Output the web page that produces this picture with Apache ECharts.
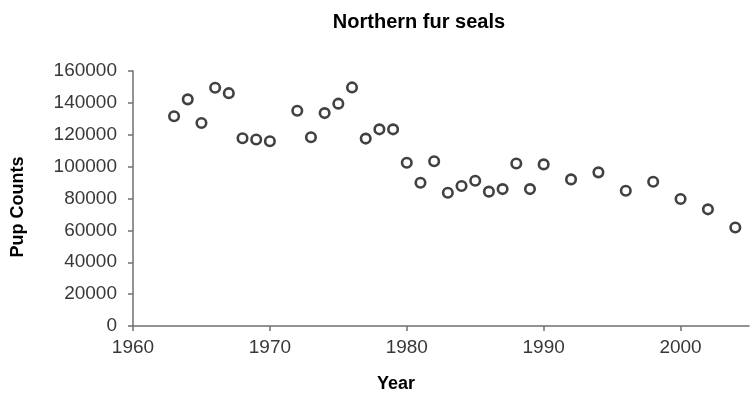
<!DOCTYPE html>
<html lang="en">
<head>
    <meta charset="UTF-8">
    <title>Northern fur seals</title>
    <script src="https://cdn.jsdelivr.net/npm/echarts@6/dist/echarts.min.js"></script>
    <style>
        html, body { margin: 0; padding: 0; background: #fff; }
        #chart { width: 752px; height: 400px; }
    </style>
</head>
<body>
    <div id="chart"></div>
    <script>
        // survey years and pup counts
        var years = [1963, 1964, 1965, 1966, 1967, 1968, 1969, 1970, 1972, 1973,
                     1974, 1975, 1976, 1977, 1978, 1979, 1980, 1981, 1982, 1983,
                     1984, 1985, 1986, 1987, 1988, 1989, 1990, 1992, 1994, 1996,
                     1998, 2000, 2002, 2004];
        var pupCounts = [131600, 142200, 127400, 149500, 146100, 117800, 117000, 115900, 135100, 118400,
                         133600, 139500, 149700, 117600, 123400, 123400, 102400, 89900, 103400, 83600,
                         87800, 91100, 84300, 85900, 102000, 85900, 101400, 92000, 96400, 84900,
                         90500, 79700, 73200, 61800];

        var chart = echarts.init(document.getElementById('chart'));
        var points = years.map(function (y, i) { return [y, pupCounts[i]]; });
        var plain = function (v) { return String(v); };

        chart.setOption({
            animation: false,
            title: {
                text: 'Northern fur seals',
                left: 414,
                top: 7,
                textAlign: 'center',
                textStyle: { fontFamily: 'Liberation Sans', fontSize: 20, fontWeight: 'bold', color: '#000' }
            },
            grid: { left: 133, right: 3, top: 71, bottom: 74, containLabel: false, outerBoundsMode: 'none' },
            xAxis: {
                type: 'value',
                min: 1960,
                max: 2005,
                interval: 10,
                name: 'Year',
                nameLocation: 'middle',
                nameGap: 49,
                nameTextStyle: {
                    fontFamily: 'Liberation Sans', fontSize: 18, fontWeight: 'bold', color: '#000',
                    padding: [0, 90, 0, 0]
                },
                axisLine: { lineStyle: { color: '#707070', width: 1.5 } },
                axisTick: { show: true, length: 5, inside: false, lineStyle: { color: '#707070', width: 1.5 } },
                axisLabel: {
                    fontFamily: 'Liberation Sans', fontSize: 19, color: '#383838', margin: 12,
                    showMaxLabel: false, formatter: plain
                },
                splitLine: { show: false }
            },
            yAxis: {
                type: 'value',
                min: 0,
                max: 160000,
                interval: 20000,
                name: 'Pup Counts',
                nameLocation: 'middle',
                nameGap: 106,
                nameTextStyle: {
                    fontFamily: 'Liberation Sans', fontSize: 18, fontWeight: 'bold', color: '#000',
                    padding: [0, 17, 0, 0]
                },
                axisLine: { show: true, lineStyle: { color: '#707070', width: 1.5 } },
                axisTick: { show: true, length: 5, lineStyle: { color: '#707070', width: 1.5 } },
                axisLabel: { fontFamily: 'Liberation Sans', fontSize: 19, color: '#383838', margin: 16, formatter: plain },
                splitLine: { show: false }
            },
            series: [{
                type: 'scatter',
                data: points,
                symbol: 'circle',
                symbolSize: 9.5,
                itemStyle: { color: '#fff', borderColor: '#111', borderWidth: 2.6 }
            }]
        });
    </script>
</body>
</html>
